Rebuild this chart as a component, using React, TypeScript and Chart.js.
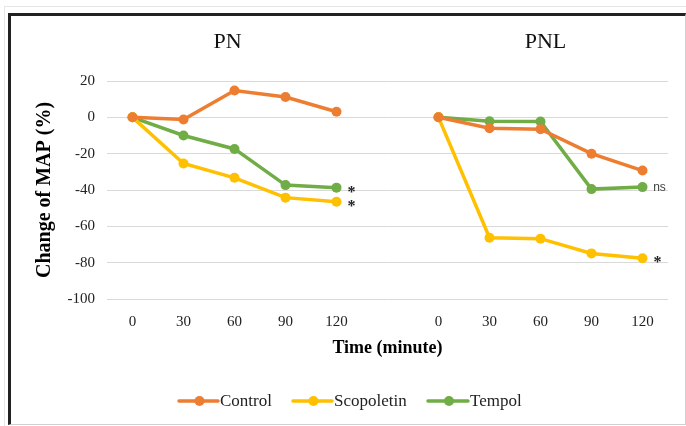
import React, { useEffect, useRef } from "react";
import { Chart, registerables } from "chart.js";

Chart.register(...registerables);

const timeLabels = ["0", "30", "60", "90", "120"];
const panelTitles = ["PN", "PNL"];

const pnControl = [0, -1.2, 14.8, 11.2, 3.1];
const pnScopoletin = [0, -25.4, -33.3, -44.2, -46.5];
const pnTempol = [0, -10, -17.4, -37.3, -38.7];

const pnlControl = [0, -6, -6.5, -20, -29.3];
const pnlScopoletin = [0, -66.3, -66.8, -74.9, -77.6];
const pnlTempol = [0, -2.2, -2.3, -39.5, -38.4];

const seriesNames = ["Control", "Scopoletin", "Tempol"];
const seriesColors = ["#ED7D31", "#FFC000", "#70AD47"];

const yTicks = [20, 0, -20, -40, -60, -80, -100];

// significance marks: [dataset index, category index, text]
const marks: [number, number, string][] = [
  [2, 4, "*"],
  [1, 4, "*"],
  [2, 10, "ns"],
  [1, 10, "*"],
];

const categories = [...timeLabels, "", ...timeLabels];
const join = (a: number[], b: number[]) => [...a, null, ...b];
const seriesData = [
  join(pnControl, pnlControl),
  join(pnScopoletin, pnlScopoletin),
  join(pnTempol, pnlTempol),
];

const SERIF = "'Liberation Serif', 'Times New Roman', serif";

const overlayPlugin = {
  id: "overlay",
  afterDraw(chart: any) {
    const ctx = chart.ctx;
    const x = chart.scales.x;
    ctx.save();
    // panel titles
    ctx.fillStyle = "#111";
    ctx.font = `22px ${SERIF}`;
    ctx.textAlign = "center";
    ctx.textBaseline = "middle";
    ctx.fillText(panelTitles[0], x.getPixelForValue(2) - 7, 42);
    ctx.fillText(panelTitles[1], x.getPixelForValue(8) + 5, 42);

    // significance marks
    marks.forEach(([ds, idx, text]) => {
      const el = chart.getDatasetMeta(ds).data[idx];
      if (!el) return;
      ctx.textAlign = "center";
      if (text === "ns") {
        ctx.font = `12px 'Liberation Sans', sans-serif`;
        ctx.fillStyle = "#404040";
        ctx.fillText(text, el.x + 17, el.y + 1);
      } else {
        ctx.font = `bold 16px ${SERIF}`;
        ctx.fillStyle = "#222";
        ctx.fillText(text, el.x + 15, el.y + 5);
      }
    });

    // legend
    const ly = 401;
    const items = [
      { lx: 179, tx: 220 },
      { lx: 293, tx: 334 },
      { lx: 428, tx: 470 },
    ];
    ctx.font = `17px ${SERIF}`;
    ctx.textAlign = "left";
    ctx.textBaseline = "middle";
    items.forEach((it, i) => {
      ctx.strokeStyle = seriesColors[i];
      ctx.lineWidth = 3.5;
      ctx.lineCap = "round";
      ctx.beginPath();
      ctx.moveTo(it.lx, ly);
      ctx.lineTo(it.tx - 2, ly);
      ctx.stroke();
      ctx.fillStyle = seriesColors[i];
      ctx.beginPath();
      ctx.arc((it.lx + it.tx) / 2, ly, 5, 0, Math.PI * 2);
      ctx.fill();
      ctx.fillStyle = "#222";
      ctx.fillText(seriesNames[i], it.tx, ly + 1);
    });
    ctx.restore();
  },
};

export default function App() {
  const ref = useRef<HTMLCanvasElement>(null);

  useEffect(() => {
    if (!ref.current) return;
    const chart = new Chart(ref.current, {
      type: "line",
      data: {
        labels: categories,
        datasets: seriesNames.map((name, i) => ({
          label: name,
          data: seriesData[i],
          borderColor: seriesColors[i],
          backgroundColor: seriesColors[i],
          borderWidth: 3.5,
          pointRadius: 5,
          pointHoverRadius: 5,
          pointBorderWidth: 0,
          spanGaps: false,
          tension: 0,
        })),
      },
      options: {
        responsive: false,
        animation: false,
        devicePixelRatio: 1,
        layout: { padding: { left: 32, top: 81, right: 18, bottom: 62 } },
        plugins: {
          legend: { display: false },
          tooltip: { enabled: false },
          title: { display: false },
        },
        scales: {
          x: {
            type: "category",
            offset: true,
            grid: { display: false, drawTicks: false },
            border: { display: false },
            ticks: {
              padding: 14,
              color: "#222",
              font: { family: SERIF, size: 15 },
              autoSkip: false,
              maxRotation: 0,
            },
            title: {
              display: true,
              text: "Time (minute)",
              color: "#000",
              font: { family: SERIF, size: 18, weight: "bold" },
              padding: { top: 0, bottom: 5 },
            },
            afterFit: (s: any) => {
              s.height = 65;
            },
          },
          y: {
            min: -100,
            max: 20,
            afterBuildTicks: (s: any) => {
              s.ticks = yTicks.map((v) => ({ value: v }));
            },
            grid: { color: "#d9d9d9", lineWidth: 1, drawTicks: false },
            border: { display: false },
            ticks: {
              padding: 12,
              color: "#222",
              font: { family: SERIF, size: 15 },
            },
            title: {
              display: true,
              text: "Change of MAP (%)",
              color: "#000",
              font: { family: SERIF, size: 20, weight: "bold" },
              padding: { top: 1, bottom: 0 },
            },
            afterFit: (s: any) => {
              s.width = 75;
            },
          },
        },
      },
      plugins: [overlayPlugin],
    });
    return () => chart.destroy();
  }, []);

  return (
    <div
      style={{
        position: "absolute",
        left: 0,
        top: 0,
        width: 686,
        height: 426,
        background: "#fff",
        overflow: "hidden",
      }}
    >
      <div
        style={{
          position: "absolute",
          left: 4,
          top: 6,
          width: 700,
          height: 440,
          borderTop: "1px solid #e6e6e6",
          borderLeft: "1px solid #e6e6e6",
        }}
      />
      <div
        style={{
          position: "absolute",
          left: 8,
          top: 13,
          width: 674,
          height: 408,
          borderTop: "3px solid #222",
          borderLeft: "3px solid #222",
          borderRight: "1px solid #d0d0d0",
          borderBottom: "1px solid #d0d0d0",
        }}
      />
      <canvas
        ref={ref}
        width={686}
        height={426}
        style={{ position: "absolute", left: 0, top: 0, width: 686, height: 426 }}
      />
    </div>
  );
}
